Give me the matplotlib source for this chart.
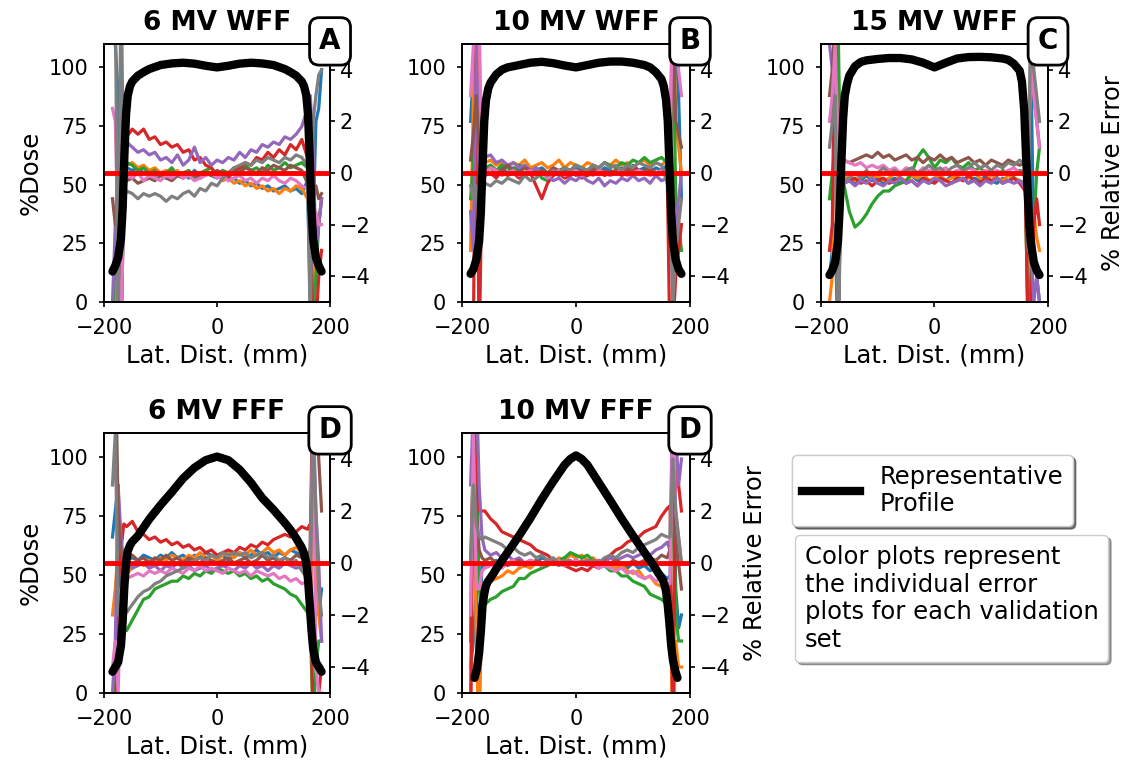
import matplotlib.pyplot as plt
from matplotlib.lines import Line2D

ERR_X = [-185, -180, -175, -170, -165,
         -160, -150, -140, -130, -120, -110, -100, -90, -80, -70, -60, -50, -40, -30, -20, -10,
         0, 10, 20, 30, 40, 50, 60, 70, 80, 90, 100, 110, 120, 130, 140, 150, 160,
         165, 170, 175, 180, 185]

# representative profile positions (mm)
PROF_X = [-185, -180, -175, -170, -167, -164, -161, -158, -154, -150, -140, -130, -120, -100, -80,
          -60, -40, -20, 0, 20, 40, 60, 80, 100, 120, 130, 140, 150, 154, 158, 161, 164, 167,
          170, 175, 180, 185]
PROF_X_E = [-178, -174, -170, -167, -164, -161, -158, -155, -152, -145, -140, -120, -100, -80,
            -60, -40, -20, -10, 0, 10, 20, 40, 60, 80, 100, 120, 140, 145, 152, 155, 158, 161,
            164, 167, 170, 174, 178]

# %Dose of the representative profiles
PROF_A = [13, 15.5, 19, 27, 40, 62, 80, 88, 92, 94, 96.5, 98, 99.3, 101, 101.7, 102, 101.6, 100.7,
          100, 100.7, 101.6, 102, 101.7, 101, 99.3, 98, 96.5, 94, 92, 88, 80, 62, 40, 27, 19, 15.5, 13]
PROF_B = [12, 14, 18, 26, 38, 58, 77, 86, 91, 93.5, 97, 99, 100, 101, 102, 102.4, 101.8, 100.8,
          100, 101, 102, 102.5, 102.5, 102, 101, 100, 98, 95, 92, 86, 77, 58, 38, 26, 18, 14, 12]
PROF_C = [11.5, 13.5, 17, 26, 40, 60, 78, 88, 93, 96.5, 100.5, 102.3, 103, 103.6, 104, 104, 103.4,
          102, 100, 102, 103.8, 104.4, 104.5, 104.3, 103.8, 103.2, 101.5, 98.6, 94, 82, 64, 48, 33,
          25, 17, 13.5, 11.5]
PROF_D = [9, 11, 13, 20, 30, 45, 55, 60, 62.5, 64, 66.5, 70, 73.5, 79.5, 85, 90.8, 95.3, 98.5,
          100, 98.5, 94.5, 89, 82.5, 77.5, 72, 69, 65.5, 61.5, 59, 55, 48, 38, 27, 19, 13, 11, 9]
PROF_E = [6.4, 10, 17, 26, 37, 42, 45.4, 47, 48, 50.5, 52.5, 59.5, 66.5, 74, 82, 89.5, 96.5, 99,
          100.5, 99, 96.5, 89, 81.5, 73.8, 66.5, 59.5, 52.5, 50.5, 48, 46, 43, 37, 29, 20, 14, 9.5, 6.4]

# % relative error, one list per validation set (blue, orange, green, red, purple, brown, pink, gray)
ERR_A = [
    [6, 5, 3, -6, -1, 0.2, 0.1, 0.2, 0.0, 0.1, -0.1, 0.0, -0.2, 0.1, -0.1, 0.0, -0.2, 0.1, -0.1, 0.0, -0.1,
     -0.2, 0.0, -0.3, -0.2, -0.4, -0.3, -0.5, -0.4, -0.6, -0.5, -0.7, -0.6, -0.5, -0.7, -0.6, -0.8, -0.3,
     -5, -2, 2, 2.5, 4],
    [-7, -6, -3, -6, 0.0, 0.3, 0.4, 0.2, 0.3, 0.1, 0.2, 0.0, 0.1, -0.1, 0.1, -0.2, 0.0, -0.1, -0.2, 0.1, -0.1,
     0.0, -0.3, -0.2, -0.4, -0.3, -0.5, -0.4, -0.6, -0.5, -0.7, -0.6, -0.8, -0.6, -0.7, -0.5, -0.6, -1.0,
     -1.5, -6, -3, -2, -1],
    [-6, -3, 1, -6, 0.2, 0.4, 0.3, 0.1, 0.2, 0.0, 0.1, -0.1, 0.0, 0.2, -0.1, 0.0, 0.1, -0.2, 0.0, 0.1, 0.2,
     -0.1, 0.1, 0.0, 0.2, 0.1, 0.3, 0.1, 0.2, 0.0, 0.3, 0.1, 0.2, 0.4, 0.2, 0.3, 0.4, 0.2,
     -1, -6, -4, -2, -1],
    [-8, -6, -7, -2, 0.5, 1.4, 1.7, 1.5, 1.7, 1.3, 1.4, 1.1, 1.2, 1.0, 1.1, 0.8, 0.9, 0.5, 0.6, 0.3, 0.2,
     -0.1, 0.0, -0.2, 0.1, 0.2, 0.4, 0.3, 0.6, 0.5, 0.8, 0.6, 0.9, 0.7, 1.1, 0.9, 1.3, 0.6,
     -2, -7, -6, -4, -3],
    [-5, -2, 0.5, 1.5, 1.0, 1.2, 1.0, 0.8, 0.9, 0.7, 0.8, 0.5, 0.6, 0.4, 0.7, 0.3, 0.5, 1.0, 0.4, 0.6, 0.3,
     0.5, 0.4, 0.6, 0.5, 0.8, 0.6, 0.9, 0.8, 1.1, 1.0, 1.2, 1.1, 1.4, 1.3, 1.5, 1.8, 2.5,
     3, 1, -3, -2, -1],
    [-1, -2, -0.5, -7, -0.5, -0.3, -0.2, -0.4, -0.3, -0.2, -0.3, -0.1, -0.2, -0.3, -0.1, -0.2, 0.0, -0.1,
     -0.2, 0.0, -0.1, 0.1, 0.0, -0.1, 0.1, 0.0, 0.2, 0.1, 0.0, 0.2, 0.1, 0.3, 0.2, 0.1, 0.3, 0.2, 0.1, -0.4,
     0.5, -1, -0.5, -1, -0.8],
    [2.5, 2.0, -3, -7, -0.5, -0.1, -0.2, 0.0, -0.3, -0.1, -0.2, -0.3, -0.1, -0.2, 0.0, -0.2, -0.1, -0.3,
     -0.2, -0.1, 0.0, -0.2, -0.1, -0.3, -0.2, -0.1, -0.3, -0.2, -0.4, -0.2, -0.3, -0.1, -0.3, -0.4, -0.2,
     -0.3, -0.5, -0.6, -1, -3, -1.5, -2, -2],
    [8, 7, -7, 8, -1, -0.7, -0.8, -1.0, -0.8, -0.9, -0.8, -0.9, -1.1, -0.9, -1.0, -0.8, -0.7, -0.9, -0.6,
     -0.7, -0.4, -0.5, -0.2, 0.0, 0.2, 0.3, 0.4, 0.3, 0.5, 0.4, 0.6, 0.5, 0.4, 0.6, 0.5, 0.7, 0.6, 0.3,
     -6, 2, 3, 3.8, 4],
]
ERR_B = [
    [2, 4, 7, -1, 0, 0.1, 0.3, 0.1, 0.2, 0.0, 0.2, 0.1, 0.3, 0.0, 0.1, 0.2, 0.0, 0.1, -0.1, 0.1, 0.0,
     0.2, 0.1, -0.1, 0.1, 0.0, 0.2, 0.1, 0.0, 0.2, 0.1, 0.3, 0.1, 0.2, 0.0, 0.2, 0.1, 0.3,
     0, 8, 5, 3, -1],
    [-3, 3, 8, 1, 0.3, 0.4, 0.5, 0.3, 0.4, 0.2, 0.4, 0.3, 0.5, 0.2, 0.3, 0.4, 0.2, 0.3, 0.5, 0.2, 0.4,
     0.3, 0.2, 0.4, 0.3, 0.2, 0.4, 0.3, 0.5, 0.3, 0.4, 0.2, 0.4, 0.5, 0.3, 0.4, 0.3, 0.5,
     0.5, 7, 2, 1, 0],
    [-1, 0.5, 2, 0.5, 0.2, 0.2, 0.3, 0.1, 0.3, 0.2, 0.1, 0.3, 0.2, 0.0, 0.2, -0.2, -0.3, 0.0, 0.1, 0.2, 0.1,
     0.3, 0.2, 0.1, 0.3, 0.2, 0.4, 0.3, 0.2, 0.4, 0.3, 0.5, 0.4, 0.6, 0.4, 0.5, 0.6, 0.4,
     -0.5, 6, -1, -2, -3],
    [-8, -6, 6, -7, -0.2, -0.1, 0.0, -0.2, 0.1, -0.1, 0.0, -0.2, -0.1, 0.0, -0.5, -1.0, -0.4, -0.1, 0.0,
     -0.2, -0.1, 0.0, -0.2, -0.1, 0.0, 0.1, -0.1, 0.0, 0.1, -0.1, 0.0, 0.2, 0.1, 0.0, 0.1, -0.1, 0.0, 0.1,
     -7, -6, -4, -3, -2],
    [-1.5, -3, 5, 0, 0.6, 0.6, 0.7, 0.4, 0.5, 0.3, 0.4, 0.2, 0.3, 0.1, 0.2, 0.0, -0.1, -0.3, -0.2, -0.4,
     -0.2, -0.3, -0.1, -0.3, -0.4, -0.2, -0.5, -0.3, -0.4, -0.2, -0.3, -0.1, -0.3, -0.2, -0.4, -0.1, -0.3,
     -0.2, 0, -5, -2, -1, 0],
    [0.5, 1.5, 3, 1.0, 0.2, 0.1, 0.2, 0.0, 0.1, 0.3, 0.1, 0.0, 0.2, 0.1, -0.1, 0.1, 0.0, 0.2, 0.1, 0.0,
     0.1, -0.1, 0.1, 0.0, 0.2, 0.0, 0.1, -0.1, 0.1, 0.0, 0.2, 0.1, 0.0, 0.1, 0.2, 0.0, 0.1, 0.0,
     0.5, 6, 2, 1.5, 1],
    [3, 5, 8, 6, 0.1, 0.0, 0.2, 0.1, -0.1, 0.0, 0.1, -0.1, 0.0, 0.1, -0.1, 0.0, -0.2, 0.0, 0.1, -0.1, 0.0,
     0.1, -0.1, 0.0, -0.1, 0.1, 0.0, -0.1, 0.0, 0.1, -0.1, 0.0, 0.1, 0.0, -0.1, 0.0, 0.1, 0.0,
     0.5, 8, 6, 4, 3],
    [-0.5, -1, -0.5, -2, -0.3, -0.4, -0.5, -0.3, -0.4, -0.2, -0.3, -0.4, -0.1, -0.3, -0.2, 0.0, -0.1, 0.1,
     0.0, 0.2, 0.1, 0.3, 0.2, 0.1, 0.3, 0.2, 0.4, 0.2, 0.3, 0.1, 0.3, 0.2, 0.4, 0.3, 0.2, 0.4, 0.3, -0.4,
     -1, -5, -3, -2, -1],
]
ERR_C = [
    [-4, -3, -2, -7, -0.2, -0.3, -0.2, -0.4, -0.3, -0.1, -0.3, -0.2, -0.4, -0.3, -0.2, -0.4, -0.3, -0.1,
     -0.3, -0.2, -0.4, -0.3, -0.2, -0.3, -0.1, -0.3, -0.2, -0.4, -0.2, -0.3, -0.1, -0.3, -0.4, -0.2, -0.3,
     -0.2, -0.3, -0.4, -5, 4, -3, -4, -5],
    [-5, -4, 7, -6, -0.2, -0.2, -0.1, -0.3, -0.2, 0.0, -0.2, -0.1, -0.3, -0.2, 0.0, -0.2, -0.3, -0.1, -0.2,
     0.0, -0.3, -0.2, -0.1, -0.3, -0.2, -0.1, -0.3, -0.2, 0.0, -0.2, -0.3, -0.1, -0.2, -0.3, -0.1, -0.2,
     -0.3, -0.5, -6, -2, -1.5, -2.5, -3],
    [-1, 0, 1, 6, -0.5, -0.4, -1.5, -2.1, -1.9, -1.6, -1.2, -0.9, -0.7, -0.7, -0.5, -0.4, -0.3, 0.0, 0.6,
     0.9, 0.6, 0.2, 0.5, 0.4, 0.6, 0.3, 0.2, 0.4, 0.1, 0.2, 0.0, 0.1, -0.1, 0.1, 0.0, -0.1, 0.1, 0.0,
     -7, -4, -2, 0, 1],
    [-3, -2, 7, -7, -0.3, -0.4, -0.3, -0.2, -0.4, -0.3, -0.5, -0.3, -0.2, -0.4, -0.3, -0.2, -0.4, -0.3,
     -0.5, -0.2, -0.3, -0.4, -0.2, -0.3, -0.4, -0.2, -0.3, -0.1, -0.3, -0.4, -0.2, -0.3, -0.2, -0.4, -0.3,
     -0.2, -0.4, -0.7, -6, -5, -2, -1, -2],
    [5, 4, 3, -6, -0.4, -0.4, -0.3, -0.5, -0.3, -0.4, -0.2, -0.4, -0.5, -0.3, -0.4, -0.2, -0.4, -0.3, -0.5,
     -0.3, -0.4, -0.2, -0.3, -0.5, -0.4, -0.3, -0.2, -0.4, -0.3, -0.5, -0.3, -0.4, -0.2, -0.4, -0.3, -0.4,
     -0.3, -0.6, -1, -3, -5, -4, -5],
    [3, 4, 6, 1, 0.6, 0.5, 0.4, 0.5, 0.6, 0.7, 0.6, 0.8, 0.6, 0.7, 0.5, 0.6, 0.7, 0.5, 0.6, 0.4, 0.6, 0.5,
     0.7, 0.5, 0.6, 0.4, 0.5, 0.6, 0.4, 0.5, 0.3, 0.5, 0.4, 0.3, 0.5, 0.4, 0.3, 0.4,
     0.5, 5, 3, 2, 1],
    [2, 3, 5, 1, 0.4, 0.5, 0.4, 0.3, 0.4, 0.2, 0.3, 0.2, 0.3, 0.1, 0.2, 0.0, 0.2, 0.1, 0.0, 0.2, 0.1, 0.0,
     0.1, 0.2, 0.0, 0.1, 0.0, 0.2, 0.1, 0.0, 0.1, -0.1, 0.1, 0.0, 0.1, 0.2, 0.0, 0.1,
     0.5, 4, 3, 2, 1],
    [1, 2, 3, -8, -0.3, -0.3, -0.2, 0.0, -0.2, 0.1, -0.1, 0.0, 0.2, 0.0, 0.1, -0.1, 0.1, 0.2, 0.0, 0.1,
     0.3, 0.1, 0.2, 0.0, 0.2, 0.3, 0.1, 0.2, 0.4, 0.2, 0.3, 0.1, 0.3, 0.2, 0.4, 0.3, 0.5, 0.3,
     -3, 8, 4, 3, 2],
]
ERR_D = [
    [1, 2, 3, -2, 0.2, 0.1, 0.2, 0.1, 0.3, 0.2, 0.1, 0.3, 0.2, 0.4, 0.2, 0.3, 0.1, 0.3, 0.2, 0.4, 0.3,
     0.2, 0.3, 0.1, 0.3, 0.4, 0.2, 0.3, 0.5, 0.3, 0.4, 0.2, 0.4, 0.3, 0.5, 0.4, 0.3, 0.2,
     0.5, 3, 1, -2, -1],
    [-2, -1, 0.5, 0, -0.3, -0.4, -0.2, 0.0, -0.1, 0.1, 0.0, 0.2, 0.1, 0.3, 0.2, 0.1, 0.3, 0.2, 0.4, 0.2,
     0.3, 0.1, 0.3, 0.4, 0.2, 0.4, 0.3, 0.5, 0.3, 0.4, 0.6, 0.4, 0.5, 0.3, 0.5, 0.6, 0.4, 0.3,
     -1, 3, 1, -2, -3],
    [-6, -4, -3, -2.5, -2.5, -2.6, -2.2, -1.8, -1.4, -1.3, -1.0, -0.9, -0.8, -0.7, -0.7, -0.5, -0.6, -0.4,
     -0.5, -0.3, -0.4, -0.2, -0.3, -0.4, -0.3, -0.5, -0.4, -0.6, -0.5, -0.7, -0.6, -0.8, -0.9, -1.0, -1.2,
     -1.3, -1.6, -1.9, -2.5, -6, -4, -3, -3],
    [-8, -7, -1, 0.5, 1.5, 1.4, 1.6, 1.2, 1.1, 0.9, 1.0, 0.8, 0.9, 0.7, 0.8, 0.6, 0.7, 0.5, 0.6, 0.4, 0.5,
     0.3, 0.4, 0.5, 0.4, 0.6, 0.5, 0.7, 0.6, 0.8, 0.7, 0.9, 1.0, 1.1, 1.0, 1.2, 1.4, 1.3,
     1.5, -7, -6, -5, -4],
    [-5, -3, 3, 1, 0.0, 0.0, -0.2, -0.1, 0.0, -0.2, -0.1, -0.3, -0.1, -0.2, 0.0, -0.2, -0.1, -0.3, -0.2,
     -0.1, -0.3, -0.2, -0.1, -0.2, -0.3, -0.1, -0.2, 0.0, -0.2, -0.1, -0.3, -0.1, -0.2, 0.0, -0.1, -0.2,
     -0.1, -0.3, 0.5, 6, 2, 0, -3],
    [6, 8, 2, 0.5, 0.1, 0.1, 0.3, 0.1, 0.2, 0.0, 0.2, 0.1, 0.3, 0.1, 0.2, 0.0, 0.2, 0.1, 0.0, 0.2, 0.1,
     0.0, 0.1, 0.2, 0.0, 0.1, 0.2, 0.0, 0.1, 0.3, 0.1, 0.2, 0.0, 0.2, 0.1, 0.3, 0.2, 0.1,
     0.5, 8, 6, 4, 2],
    [-4, -3, -5, -1, -0.6, -0.6, -0.5, -0.4, -0.5, -0.3, -0.4, -0.3, -0.4, -0.2, -0.3, -0.4, -0.2, -0.3,
     -0.1, -0.3, -0.2, -0.3, -0.4, -0.2, -0.3, -0.4, -0.3, -0.5, -0.3, -0.4, -0.5, -0.4, -0.6, -0.5, -0.7,
     -0.6, -0.8, -0.7, -1, 6, -4, -5, -5],
    [3, 5, -2, -1.5, -1.8, -1.9, -1.6, -1.3, -1.1, -1.0, -0.8, -0.7, -0.5, -0.4, -0.3, -0.2, 0.0, 0.1, 0.2,
     0.1, 0.3, 0.2, 0.4, 0.3, 0.4, 0.3, 0.4, 0.2, 0.3, 0.4, 0.2, 0.3, 0.1, 0.2, 0.0, 0.1, -0.3, -0.6,
     -0.8, 5, 2, -1, -2],
]
ERR_E = [
    [-4, -3, -1, -3, 0, -0.1, 0.0, 0.1, -0.1, 0.0, 0.1, 0.0, -0.1, 0.1, 0.0, 0.2, 0.1, 0.0, 0.1, 0.2, 0.0,
     0.1, 0.0, 0.1, -0.1, 0.0, 0.1, -0.1, 0.0, -0.1, -0.2, 0.0, -0.2, -0.1, -0.3, -0.2, -0.4, -0.6,
     -0.5, 5, -1, -2.5, -2],
    [-5, 6, -3, -7, -0.8, -0.9, -0.7, -0.6, -0.5, -0.3, -0.4, -0.2, -0.1, -0.2, 0.0, -0.1, 0.1, 0.0, 0.2,
     0.1, 0.3, 0.2, 0.3, 0.1, 0.2, 0.0, 0.1, -0.1, -0.2, -0.1, -0.3, -0.4, -0.3, -0.6, -0.5, -0.8, -0.9,
     -1.1, -1, -7, -3, -4, -4],
    [-3, 6, 4, -1, -1.8, -1.6, -1.4, -1.3, -1.1, -1.0, -0.9, -0.6, -0.6, -0.4, -0.3, -0.2, -0.1, 0.1, 0.1,
     0.2, 0.4, 0.3, 0.2, 0.3, 0.1, 0.0, -0.1, -0.3, -0.3, -0.5, -0.5, -0.7, -0.8, -0.9, -1.2, -1.3, -1.4,
     -1.6, -1.6, 4, -2, -3, -3],
    [-7, 6, 3, 2, 2.0, 2.0, 1.7, 1.5, 1.2, 1.1, 1.0, 0.9, 0.8, 0.7, 0.5, 0.4, 0.3, 0.1, 0.0, -0.1, -0.2,
     -0.3, -0.2, -0.3, -0.1, -0.2, 0.1, 0.3, 0.5, 0.6, 0.8, 0.9, 1.0, 1.2, 1.3, 1.4, 1.8, 2.1,
     2.2, -7, 4, 3, 2],
    [3, 6, 7, 3, 1.0, 0.5, 0.3, 0.4, 0.2, 0.3, 0.1, 0.2, 0.0, 0.1, 0.0, -0.1, 0.1, 0.0, -0.1, 0.0, 0.1,
     -0.1, 0.0, 0.1, 0.0, 0.1, 0.0, 0.2, 0.1, 0.2, 0.3, 0.2, 0.3, 0.4, 0.3, 0.5, 0.6, 0.8,
     0.5, 7, 5, 3, 4],
    [0, 4, 2, 0.5, 0.2, 0.1, 0.2, 0.0, 0.1, -0.1, 0.0, 0.1, -0.1, 0.0, 0.1, 0.0, -0.1, 0.1, 0.0, -0.1, 0.0,
     0.1, 0.0, -0.1, 0.1, 0.0, -0.1, 0.0, 0.1, 0.0, -0.1, 0.1, 0.0, 0.1, 0.2, 0.1, 0.3, 0.2,
     0.5, 3, 1, 0, -1],
    [-2, 5, -1, -1, -0.3, -0.2, -0.1, 0.0, -0.2, 0.0, 0.1, -0.1, 0.0, 0.1, 0.0, -0.1, 0.1, 0.0, 0.1, -0.1,
     0.0, 0.1, 0.0, -0.1, 0.0, -0.2, -0.1, -0.2, -0.3, -0.2, -0.4, -0.3, -0.5, -0.6, -0.5, -0.7, -0.6,
     -0.8, -0.8, 6, 2, 1, 0],
    [0, 3, 1.5, 1.0, 0.9, 1.0, 0.9, 0.8, 0.7, 0.5, 0.6, 0.4, 0.3, 0.4, 0.2, 0.3, 0.1, 0.2, 0.0, 0.1, 0.0,
     -0.1, 0.1, 0.0, 0.1, 0.0, 0.2, 0.3, 0.2, 0.4, 0.5, 0.4, 0.6, 0.7, 0.8, 0.9, 1.1, 1.0,
     1.0, 4, 2, 1, 0],
]

TITLES = ['6 MV WFF', '10 MV WFF', '15 MV WFF', '6 MV FFF', '10 MV FFF']
LETTERS = ['A', 'B', 'C', 'D', 'D']
COLORS = ['#1f77b4', '#ff7f0e', '#2ca02c', '#d62728', '#9467bd', '#8c564b', '#e377c2', '#7f7f7f']

panels = [
    (PROF_X, PROF_A, ERR_A),
    (PROF_X, PROF_B, ERR_B),
    (PROF_X, PROF_C, ERR_C),
    (PROF_X, PROF_D, ERR_D),
    (PROF_X_E, PROF_E, ERR_E),
]
# axes rectangles in figure fraction: left, bottom, width, height
boxes = [
    [0.0918, 0.6063, 0.1995, 0.3364],
    [0.4078, 0.6063, 0.2012, 0.3364],
    [0.7246, 0.6063, 0.2004, 0.3364],
    [0.0918, 0.0965, 0.1995, 0.3390],
    [0.4078, 0.0965, 0.2012, 0.3390],
]

fig = plt.figure(figsize=(11.33, 7.67), dpi=100)

for i, (px, prof, errs) in enumerate(panels):
    ax = fig.add_axes(boxes[i])
    ax2 = ax.twinx()
    # profile axes drawn above the error axes
    ax.set_zorder(ax2.get_zorder() + 1)
    ax.patch.set_visible(False)

    for c, err in enumerate(errs):
        ax2.plot(ERR_X, err, color=COLORS[c], lw=2.3)
    ax2.axhline(0, color='red', lw=3.5, zorder=5)
    ax2.set_ylim(-5, 5)
    ax2.set_yticks([-4, -2, 0, 2, 4])

    ax.plot(px, prof, color='black', lw=6, solid_capstyle='round', solid_joinstyle='round')
    ax.set_xlim(-200, 200)
    ax.set_ylim(0, 110)
    ax.set_xticks([-200, 0, 200])
    ax.set_yticks([0, 25, 50, 75, 100])

    for a in (ax, ax2):
        a.tick_params(labelsize=15, width=1.2)
        for s in a.spines.values():
            s.set_linewidth(1.3)
    ax.tick_params(axis='x', pad=8)
    ax.tick_params(axis='y', pad=8)

    ax.set_xlabel('Lat. Dist. (mm)', fontsize=17.5)
    ax.set_title(TITLES[i], fontsize=19, fontweight='bold', pad=10)
    if i in (0, 3):
        ax.set_ylabel('%Dose', fontsize=17.5)
    if i in (2, 4):
        ax2.set_ylabel('% Relative Error', fontsize=17.5, labelpad=9)

    ax.text(1.0, 1.01, LETTERS[i], transform=ax.transAxes, ha='center', va='center',
            fontsize=20, fontweight='bold', zorder=10, clip_on=False,
            bbox=dict(boxstyle='round,pad=0.35', fc='white', ec='black', lw=2))

leg1 = fig.legend(handles=[Line2D([], [], color='black', lw=6)],
                  labels=['Representative\nProfile'],
                  loc='upper left', bbox_to_anchor=(0.699, 0.407),
                  fontsize=17.5, shadow=True, fancybox=True, handlelength=2.4,
                  borderaxespad=0, framealpha=1)
fig.legend(handles=[Line2D([], [], color='none')],
           labels=['Color plots represent\nthe individual error\nplots for each validation\nset'],
           loc='upper left', bbox_to_anchor=(0.7017, 0.3025),
           fontsize=17.5, shadow=True, fancybox=True, handlelength=0, handletextpad=0,
           borderaxespad=0, framealpha=1)
fig.add_artist(leg1)

fig.savefig('out.png', dpi=100)
